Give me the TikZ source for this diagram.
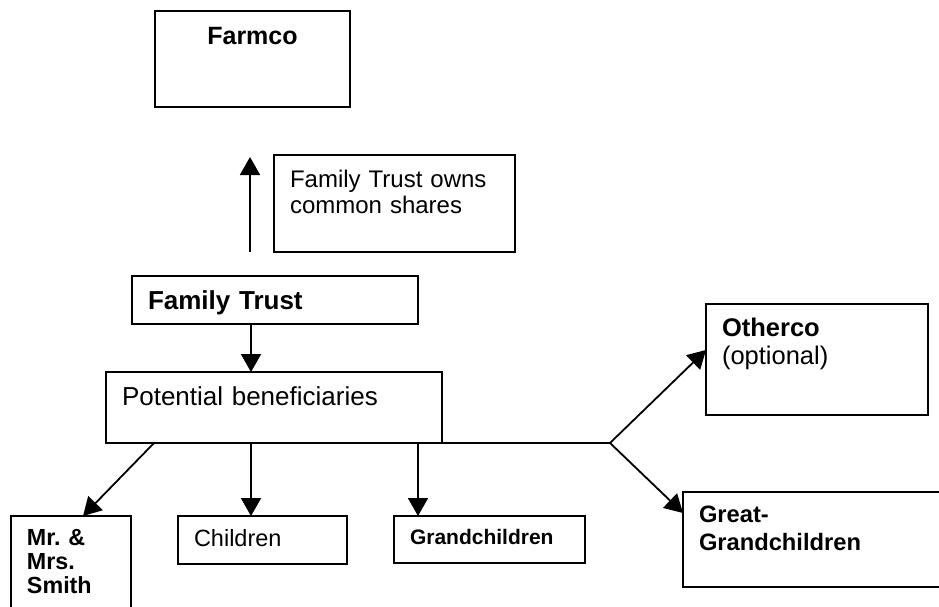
\documentclass[tikz,border=0pt]{standalone}
\usepackage{fontspec}
\setmainfont{Liberation Sans}
\usetikzlibrary{arrows.meta}

\begin{document}
\begin{tikzpicture}[x=1pt, y=-1pt,
	>={Triangle[length=18pt,width=20pt]},
	bstyle/.style={draw, line width=2.4pt, outer sep=0pt, inner xsep=16pt,
	inner ysep=0pt, anchor=north west, align=left},
	astyle/.style={->, line width=1.8pt}
	]
	\useasboundingbox (0,0) rectangle (939,607);
	\clip (0,0) rectangle (939,607);

	\node[bstyle, align=center, minimum width=195pt, text width=163pt,
	text height=34pt, text depth=62pt,
	font=\bfseries\fontsize{25}{30}\selectfont] (farm) at (155,11) {Farmco};
	\node[bstyle, minimum width=241pt, text width=209pt,
	text height=32pt, text depth=65pt,
	font=\fontsize{24}{26}\selectfont] (note) at (274,155)
	{Family Trust owns\\common shares};
	\node[bstyle, minimum width=286pt, text width=254pt,
	text height=33pt, text depth=15pt,
	font=\bfseries\fontsize{26}{30}\selectfont] (trust) at (132,276) {Family Trust};
	\node[bstyle, minimum width=336pt, text width=304pt,
	text height=33pt, text depth=38pt,
	font=\fontsize{26}{30}\selectfont] (benef) at (106,372) {Potential beneficiaries};
	\node[bstyle, minimum width=222pt, text width=190pt,
	text height=32pt, text depth=79pt,
	font=\fontsize{25.5}{28}\selectfont] (other) at (706,304)
	{\textbf{Otherco}\\(optional)};
	\node[bstyle, minimum width=280pt, text width=248pt,
	text height=30pt, text depth=65pt,
	font=\bfseries\fontsize{23.7}{28}\selectfont] (great) at (683,492)
	{Great-\\Grandchildren};
	\node[bstyle, minimum width=169pt, text width=137pt,
	text height=30pt, text depth=18pt,
	font=\fontsize{23.5}{28}\selectfont] (kids) at (178,516) {Children};
	\node[bstyle, minimum width=191pt, text width=159pt,
	text height=28pt, text depth=19pt,
	font=\bfseries\fontsize{21}{25}\selectfont] (grand) at (394,516) {Grandchildren};
	\node[bstyle, minimum width=120pt, text width=88pt,
	text height=29pt, text depth=81pt,
	font=\bfseries\fontsize{23.3}{24}\selectfont] (smith) at (11,516)
	{Mr.\ \&\\Mrs.\\Smith};

	\coordinate (ownlow) at (250,252);
	\coordinate (owntip) at (250,157);
	\coordinate (fork) at (610,443);

	\draw[astyle] (ownlow) to (owntip);
	\draw[astyle] ([xshift=119pt]trust.south west) to ([xshift=145pt]benef.north west);
	\draw[astyle] ([xshift=48pt]benef.south west) to ([xshift=72pt]smith.north west);
	\draw[astyle] ([xshift=145pt]benef.south west) to ([xshift=73pt]kids.north west);
	\draw[astyle] ([xshift=312pt]benef.south west) to ([xshift=24pt]grand.north west);
	\draw[line width=1.8pt] (benef.south east) to (fork);
	\draw[astyle] (fork) to ([yshift=-46pt]other.north west);
	\draw[astyle] (fork) to ([yshift=-21pt]great.north west);
\end{tikzpicture}
\end{document}
